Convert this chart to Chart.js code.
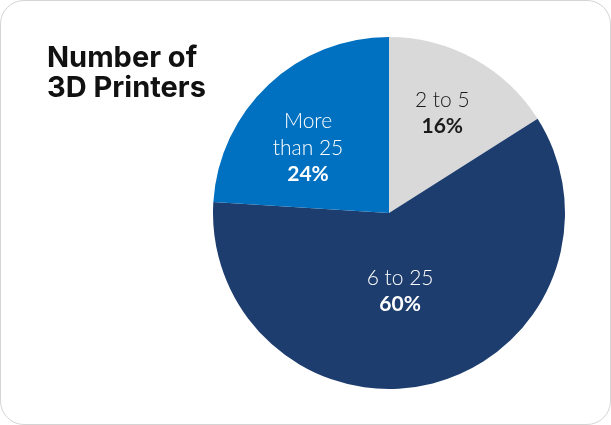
<!DOCTYPE html>
<html>
<head>
<meta charset="utf-8">
<script src="https://cdn.jsdelivr.net/npm/chart.js@4/dist/chart.umd.min.js"></script>
<style>
  html, body { margin: 0; padding: 0; background: #fff; }
  .card {
    position: relative;
    width: 609px;
    height: 423px;
    border: 1px solid #d4d4d4;
    border-radius: 24px;
    overflow: hidden;
  }
  .card canvas { position: absolute; left: -1px; top: -1px; }
</style>
</head>
<body>
<div class="card">
  <canvas id="pie" width="611" height="425"></canvas>
</div>
<script>
// Share of respondents by number of 3D printers owned
const CATEGORIES = ["2 to 5", "6 to 25", "More than 25"];
const LABEL_LINES = [["2 to 5"], ["6 to 25"], ["More", "than 25"]];
const SHARES = [16, 60, 24];
const COLORS = ["#d9d9d9", "#1d3d6e", "#0070c0"];
const TEXT_COLORS = ["#1a1a1a", "#ffffff", "#ffffff"];
const TITLE_LINES = ["Number of", "3D Printers"];

// label anchor per slice: fraction of radius along the slice's mid angle, plus a nudge
const LABEL_RADIUS = [0.64, 0.448, 0.585];
const LABEL_SHIFT = [[-1, -1], [-8.5, 2], [-10.5, 10]];

const FONT = "Lato, 'Open Sans', sans-serif";
const TITLE_FONT = "Inter, Lato, sans-serif";

const sliceLabels = {
  id: "sliceLabels",
  afterDatasetsDraw(chart) {
    const ctx = chart.ctx;
    const meta = chart.getDatasetMeta(0);
    ctx.save();
    ctx.textAlign = "center";
    ctx.textBaseline = "middle";
    meta.data.forEach((arc, i) => {
      const { x, y, startAngle, endAngle, outerRadius } = arc.getProps(
        ["x", "y", "startAngle", "endAngle", "outerRadius"], true);
      const mid = (startAngle + endAngle) / 2;
      const r = outerRadius * LABEL_RADIUS[i];
      const cx = x + Math.cos(mid) * r + LABEL_SHIFT[i][0];
      const cy = y + Math.sin(mid) * r + LABEL_SHIFT[i][1];
      const lines = LABEL_LINES[i];
      const lineH = 26.5;
      const total = lines.length + 1;
      let ty = cy - ((total - 1) * lineH) / 2;
      ctx.fillStyle = TEXT_COLORS[i];
      ctx.font = "300 21px " + FONT;
      lines.forEach((ln) => {
        ctx.fillText(ln, cx, ty);
        ty += lineH;
      });
      ctx.font = "700 21px " + FONT;
      ctx.fillText(SHARES[i] + "%", cx, ty);
    });
    ctx.restore();
  },
};

const titleText = {
  id: "titleText",
  afterDraw(chart) {
    const ctx = chart.ctx;
    ctx.save();
    ctx.fillStyle = "#111";
    ctx.font = "700 29px " + TITLE_FONT;
    ctx.textAlign = "left";
    ctx.textBaseline = "alphabetic";
    TITLE_LINES.forEach((ln, i) => ctx.fillText(ln, 47, 67 + i * 30));
    ctx.restore();
  },
};

new Chart(document.getElementById("pie"), {
  type: "pie",
  data: {
    labels: CATEGORIES,
    datasets: [{
      data: SHARES,
      backgroundColor: COLORS,
      borderWidth: 0,
    }],
  },
  options: {
    responsive: false,
    animation: false,
    layout: { padding: { left: 213, right: 46, top: 37, bottom: 36 } },
    plugins: {
      legend: { display: false },
      tooltip: { enabled: false },
    },
  },
  plugins: [sliceLabels, titleText],
});
</script>
</body>
</html>
